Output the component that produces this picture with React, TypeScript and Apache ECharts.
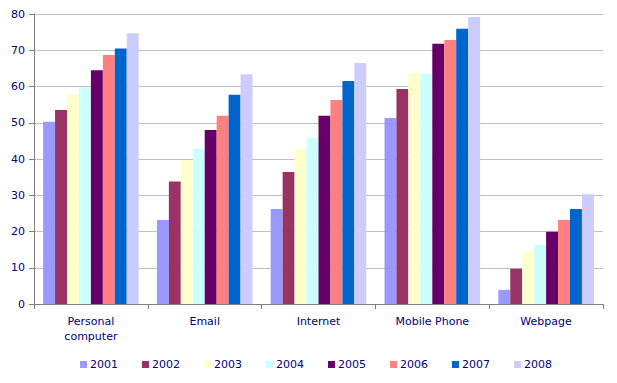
import React, { useEffect, useRef } from "react";
import * as echarts from "echarts";

const categories = ["Personal\ncomputer", "Email", "Internet", "Mobile Phone", "Webpage"];
const years = ["2001", "2002", "2003", "2004", "2005", "2006", "2007", "2008"];
const colors = ["#9999FF", "#993366", "#FFFFCC", "#CCFFFF", "#660066", "#FF8080", "#0066CC", "#CCCCFF"];

const v2001 = [50.3, 23.2, 26.2, 51.3, 3.9];
const v2002 = [53.5, 33.8, 36.4, 59.3, 9.7];
const v2003 = [57.9, 39.7, 42.7, 63.7, 14.6];
const v2004 = [59.8, 42.8, 45.9, 63.6, 16.3];
const v2005 = [64.5, 48.0, 51.9, 71.8, 19.9];
const v2006 = [68.7, 51.9, 56.3, 72.8, 23.2];
const v2007 = [70.5, 57.7, 61.5, 75.9, 26.2];
const v2008 = [74.7, 63.4, 66.5, 79.2, 30.3];
const seriesValues = [v2001, v2002, v2003, v2004, v2005, v2006, v2007, v2008];

const FONT = "Verdana, 'DejaVu Sans', sans-serif";
const NAVY = "#000080";

export default function App() {
  const ref = useRef<HTMLDivElement>(null);
  useEffect(() => {
    const chart = echarts.init(ref.current!, null, { renderer: "svg" });
    chart.setOption({
      animation: false,
      backgroundColor: "#ffffff",
      grid: { left: 34, right: 14, top: 14, bottom: 79, containLabel: false },
      legend: {
        data: years,
        left: 80,
        top: 359,
        padding: 0,
        itemWidth: 7,
        itemHeight: 7,
        itemGap: 24,
        icon: "rect",
        textStyle: { color: NAVY, fontFamily: FONT, fontSize: 11, padding: [0, 0, 0, -2] },
      },
      xAxis: {
        type: "category",
        data: categories,
        axisLine: { lineStyle: { color: "#808080" } },
        axisTick: { show: true, length: 5, lineStyle: { color: "#808080" } },
        axisLabel: { color: NAVY, fontFamily: FONT, fontSize: 11, margin: 10, lineHeight: 15 },
      },
      yAxis: {
        type: "value",
        min: 0,
        max: 80,
        interval: 10,
        axisLine: { show: true, lineStyle: { color: "#808080" } },
        axisTick: { show: true, length: 5, lineStyle: { color: "#808080" } },
        axisLabel: { color: NAVY, fontFamily: FONT, fontSize: 11, margin: 9 },
        splitLine: { lineStyle: { color: "#c0c0c0" } },
      },
      series: years.map((y, i) => ({
        name: y,
        type: "bar",
        data: seriesValues[i],
        barGap: "0%",
        barCategoryGap: "16%",
        itemStyle: { color: colors[i] },
      })),
    });
    return () => chart.dispose();
  }, []);
  return <div ref={ref} style={{ width: 617, height: 383, position: "absolute", left: 0, top: 0 }} />;
}
